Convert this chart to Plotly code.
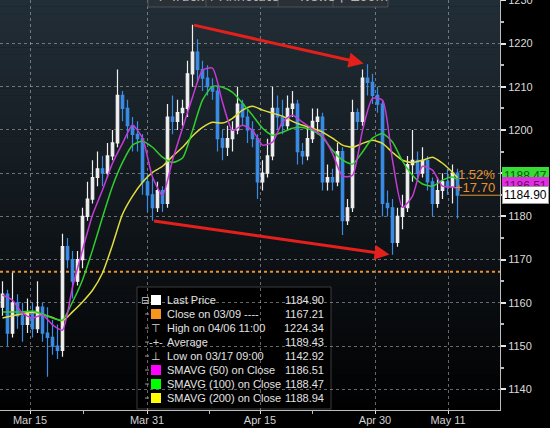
import plotly.graph_objects as go

# ---------------- data ----------------
# price bars (one bar per sample)
high = [1165, 1163, 1167, 1162, 1160, 1161, 1160, 1165, 1160, 1159,
        1156, 1155, 1176, 1175, 1172, 1172, 1182, 1188, 1193, 1195,
        1194, 1197, 1200, 1214, 1209, 1207, 1203, 1202, 1199, 1190,
        1189, 1188, 1187, 1206, 1208, 1207, 1207, 1216, 1224.34, 1221,
        1216, 1215, 1212, 1210, 1200, 1201, 1202, 1210, 1207, 1205,
        1202, 1199, 1193, 1198, 1210, 1208, 1207, 1208, 1209, 1207,
        1197, 1201, 1205, 1205, 1204, 1192, 1191, 1197, 1196, 1184,
        1207, 1205, 1214, 1215.2, 1213, 1210, 1207, 1186, 1184, 1182,
        1185, 1194, 1200, 1195, 1196, 1194, 1189, 1189, 1190, 1191,
        1192, 1191]
low = [1157, 1150, 1152, 1154, 1151, 1153, 1152, 1153, 1151, 1142.92,
       1148, 1147, 1147.5, 1168, 1161, 1164, 1168, 1179, 1183, 1187,
       1187, 1189, 1193, 1196, 1202, 1198, 1195, 1195, 1185, 1181,
       1179, 1181, 1181, 1182, 1199, 1200, 1201, 1203, 1210, 1211,
       1209, 1208, 1207, 1195, 1193, 1194, 1195, 1199, 1201, 1197,
       1196, 1184, 1186, 1189, 1193, 1200, 1199, 1200, 1203, 1192,
       1192, 1193, 1197, 1199, 1186, 1186, 1186, 1187, 1175.7, 1178,
       1181, 1200, 1201, 1208, 1206, 1204, 1180, 1180, 1171.1, 1173,
       1177, 1181, 1188, 1188, 1189, 1186, 1180, 1182, 1184, 1185,
       1183, 1179.5]
close = [1162, 1153, 1160, 1157, 1155, 1158, 1154, 1159, 1153, 1152,
         1150, 1149, 1173, 1170, 1165, 1170, 1180, 1184, 1189, 1191,
         1190, 1194, 1197, 1208, 1205, 1201, 1199, 1198, 1188, 1185,
         1182, 1186, 1183, 1203, 1202, 1204, 1205, 1213, 1218, 1214,
         1212, 1210, 1209, 1198, 1196, 1198, 1200, 1206, 1203, 1200,
         1198, 1188, 1190, 1194, 1205, 1203, 1201, 1205, 1206, 1195,
         1194, 1198, 1202, 1203, 1188, 1189, 1188, 1195, 1179, 1182,
         1204, 1202, 1212, 1211, 1208, 1206, 1183, 1182, 1174, 1180,
         1182, 1192, 1193, 1190, 1193, 1188, 1183, 1186, 1188, 1187,
         1190, 1184.90]
first_open = 1159.0

# moving averages, read every second bar (plus the last bar)
sma_bar = [0, 2, 4, 6, 8, 10, 12, 14, 16, 18, 20, 22, 24, 26, 28, 30, 32, 34,
           36, 38, 40, 42, 44, 46, 48, 50, 52, 54, 56, 58, 60, 62, 64, 66, 68,
           70, 72, 74, 76, 78, 80, 82, 84, 86, 88, 90, 91]
sma50 = [1161.8, 1160.6, 1157.6, 1156.5, 1157.2, 1154.9, 1153.7, 1163.6, 1172.2,
         1180.3, 1186.1, 1192.3, 1196.9, 1201.1, 1198.1, 1189.1, 1184.9, 1193.0,
         1200.4, 1207.6, 1213.8, 1214.3, 1206.4, 1199.9, 1201.1, 1199.9, 1196.5,
         1197.2, 1201.8, 1203.4, 1201.8, 1200.2, 1198.6, 1194.6, 1189.3, 1189.5,
         1199.9, 1207.3, 1206.9, 1193.0, 1182.1, 1184.7, 1191.6, 1190.7, 1187.0,
         1186.8, 1186.51]
sma100 = [1157.9, 1157.9, 1157.9, 1158.1, 1157.4, 1156.5, 1156.0, 1160.2, 1165.3,
          1172.2, 1179.8, 1187.0, 1192.5, 1196.5, 1197.4, 1196.0, 1193.7, 1192.5,
          1193.5, 1199.9, 1206.9, 1210.1, 1209.9, 1208.7, 1206.2, 1203.4, 1200.4,
          1198.8, 1199.5, 1200.4, 1200.6, 1199.9, 1198.3, 1195.3, 1193.0, 1192.1,
          1194.9, 1198.1, 1199.2, 1197.2, 1192.8, 1189.5, 1187.5, 1187.0, 1188.4,
          1189.1, 1188.47]
sma200 = [1156.5, 1157.0, 1157.5, 1157.8, 1157.3, 1156.6, 1155.8, 1157.9, 1160.2,
          1162.9, 1166.9, 1173.4, 1180.5, 1184.7, 1187.9, 1190.2, 1191.6, 1193.9,
          1196.0, 1198.6, 1200.6, 1201.8, 1201.6, 1202.7, 1204.6, 1205.5, 1204.6,
          1203.9, 1203.2, 1202.0, 1201.1, 1200.4, 1199.5, 1198.1, 1196.5, 1196.0,
          1196.9, 1197.6, 1196.9, 1194.8, 1193.0, 1192.5, 1193.0, 1193.7, 1192.3,
          1190.2, 1188.94]

ref_close = 1167.21      # Close on 03/09
x_tick_bar = [5.5, 28.9, 51.5, 74.5, 89.1]
x_tick_text = ["Mar 15", "Mar 31", "Apr 15", "Apr 30", "May 11"]
x_minor_bar = [16.1, 41.3, 61.9]

legend_labels = ["Last Price", "Close on 03/09 ----", "High on 04/06 11:00", "Average",
                 "Low on 03/17 09:00", "SMAVG (50) on Close", "SMAVG (100) on Close",
                 "SMAVG (200) on Close"]
legend_values = ["1184.90", "1167.21", "1224.34", "1189.43", "1142.92", "1186.51",
                 "1188.47", "1188.94"]
change_labels = ["1.52%", "+17.70"]
toolbar_labels = ["✛ Track", "⅟ Annotate", "≡ News", "⚲ Zoom"]

# ---------------- styling / layout helpers ----------------
W, H = 550, 428
ML, MR, MT, MB = 0, 50, 0, 18
PW, PH = W - ML - MR, H - MT - MB
FONT = "Liberation Sans, Arial, sans-serif"

def px_x(p):
    return p / PW

def px_y(p):
    return 1 - p / PH

bars = list(range(len(close)))
opens = [first_open] + close[:-1]

C_MAG, C_GRN, C_YEL = "#c63ad8", "#2fcf2f", "#dede3e"
C_ORANGE = "#e8912e"
C_RED = "#e3201b"

fig = go.Figure()
fig.add_trace(go.Candlestick(
    x=bars, open=opens, high=high, low=low, close=close,
    increasing=dict(line=dict(color="#f0f0f0", width=1.2), fillcolor="#f0f0f0"),
    decreasing=dict(line=dict(color="#3a8de6", width=1.2), fillcolor="#3a8de6"),
    whiskerwidth=0, showlegend=False, hoverinfo="skip"))
for vals, col in [(sma200, C_YEL), (sma100, C_GRN), (sma50, C_MAG)]:
    fig.add_trace(go.Scatter(x=sma_bar, y=vals, mode="lines",
                             line=dict(color=col, width=1.5, shape="spline", smoothing=0.6),
                             showlegend=False, hoverinfo="skip"))

shapes = []
# vertical gradient background of the plot area
N = 60
top, bot = (34, 46, 55), (1, 1, 2)
for k in range(N):
    t = (k + 0.5) / N
    c = tuple(round(top[j] + (bot[j] - top[j]) * t) for j in range(3))
    shapes.append(dict(type="rect", xref="paper", yref="paper", x0=0, x1=1,
                       y0=1 - (k + 1) / N, y1=1 - k / N + 0.001, layer="below",
                       line=dict(width=0), fillcolor="rgb(%d,%d,%d)" % c))
# legend box (under the grid)
shapes.append(dict(type="rect", xref="paper", yref="paper", x0=px_x(137), x1=px_x(331),
                   y0=px_y(409), y1=px_y(287), layer="below",
                   line=dict(color="#3c3c3c", width=1), fillcolor="#000000"))
# close on 03/09 dotted level
shapes.append(dict(type="line", xref="paper", yref="y", x0=0, x1=1, y0=ref_close, y1=ref_close,
                   layer="below", line=dict(color=C_ORANGE, width=2, dash="dot")))
# last price level stub
shapes.append(dict(type="line", xref="x", yref="y", x0=len(close) - 0.5, x1=99.5,
                   y0=close[-1], y1=close[-1], line=dict(color=C_ORANGE, width=1)))
# toolbar at the top
shapes.append(dict(type="rect", xref="paper", yref="paper", x0=px_x(148), x1=px_x(388),
                   y0=px_y(7), y1=px_y(-25), line=dict(color="#4b5157", width=1),
                   fillcolor="#2a3036"))
for sx in [206, 278, 333]:
    shapes.append(dict(type="line", xref="paper", yref="paper", x0=px_x(sx), x1=px_x(sx),
                       y0=px_y(7), y1=px_y(-25), line=dict(color="#4b5157", width=1)))

annotations = []
# red arrows: from the April high to the late-April high, and from the late-March low to the April low
annotations.append(dict(x=73, y=high[73], ax=38, ay=high[38], xref="x", yref="y",
                        axref="x", ayref="y", text="", showarrow=True, arrowhead=2,
                        arrowsize=1, arrowwidth=3, arrowcolor=C_RED, standoff=4))
annotations.append(dict(x=78, y=low[78], ax=30, ay=low[30], xref="x", yref="y",
                        axref="x", ayref="y", text="", showarrow=True, arrowhead=2,
                        arrowsize=1, arrowwidth=3, arrowcolor=C_RED, standoff=3))

# legend
sq_colors = ["#ffffff", "#f7941d", None, None, None, "#ff00ff", "#00ff00", "#ffff00"]
icons = [None, None, "⊤", "-+-", "⊥", None, None, None]
for k, (lab, val) in enumerate(zip(legend_labels, legend_values)):
    yp = 300 + 14 * k
    if sq_colors[k]:
        shapes.append(dict(type="rect", xref="paper", yref="paper", x0=px_x(151), x1=px_x(161),
                           y0=px_y(yp + 5), y1=px_y(yp - 5), line=dict(width=0),
                           fillcolor=sq_colors[k]))
    if icons[k]:
        annotations.append(dict(x=px_x(156), y=px_y(yp), xref="paper", yref="paper",
                                text=icons[k], showarrow=False, xanchor="center",
                                yanchor="middle", font=dict(color="#d8d8d8", size=11, family=FONT)))
    if k == 0:
        annotations.append(dict(x=px_x(145), y=px_y(yp), xref="paper", yref="paper",
                                text="⊟", showarrow=False, xanchor="center", yanchor="middle",
                                font=dict(color="#cfcfcf", size=10, family="DejaVu Sans")))
    else:
        shapes.append(dict(type="line", xref="paper", yref="paper", x0=px_x(145), x1=px_x(149),
                           y0=px_y(yp), y1=px_y(yp), line=dict(color="#9a9a9a", width=1)))
    annotations.append(dict(x=px_x(165), y=px_y(yp), xref="paper", yref="paper", text=lab,
                            showarrow=False, xanchor="left", yanchor="middle",
                            font=dict(color="#e2e2e2", size=11, family=FONT)))
    annotations.append(dict(x=px_x(326), y=px_y(yp), xref="paper", yref="paper", text=val,
                            showarrow=False, xanchor="right", yanchor="middle",
                            font=dict(color="#e2e2e2", size=11, family=FONT)))

# change vs close on 03/09
annotations.append(dict(x=px_x(497), y=close[-1], xref="paper", yref="y", text=change_labels[0],
                        showarrow=False, xanchor="right", yanchor="middle", yshift=21,
                        font=dict(color=C_ORANGE, size=13, family=FONT)))
annotations.append(dict(x=px_x(497), y=close[-1], xref="paper", yref="y", text=change_labels[1],
                        showarrow=False, xanchor="right", yanchor="middle", yshift=8,
                        font=dict(color=C_ORANGE, size=13, family=FONT)))

# price tags on the right axis
for val, bg, fg, ys in [(sma100[-1], "#35dd35", "#0c5a0c", 4), (sma50[-1], "#e030e0", "#6a0a6a", 2),
                        (close[-1], "#ffffff", "#000000", 0)]:
    annotations.append(dict(x=1, y=val, xref="paper", yref="y", text="%.2f" % val,
                            showarrow=False, xanchor="left", yanchor="middle", xshift=2, yshift=ys,
                            bgcolor=bg, bordercolor="#9a9a9a" if bg == "#ffffff" else bg,
                            borderwidth=1, borderpad=1,
                            font=dict(color=fg, size=12, family=FONT)))

# toolbar labels (mostly above the frame)
for lab, cx in zip(toolbar_labels, [180, 243, 310, 362]):
    annotations.append(dict(x=px_x(cx), y=1, xref="paper", yref="paper", text=lab,
                            showarrow=False, xanchor="center", yanchor="middle", yshift=4,
                            font=dict(color="#b4b4b4", size=13, family="DejaVu Sans")))

grid = "rgba(185,185,185,0.55)"
fig.update_layout(
    width=W, height=H,
    margin=dict(l=ML, r=MR, t=MT, b=MB, autoexpand=False),
    paper_bgcolor="#000000", plot_bgcolor="rgba(0,0,0,0)",
    showlegend=False,
    shapes=shapes, annotations=annotations,
    xaxis=dict(range=[-0.5, 99.5], tickmode="array", tickvals=x_tick_bar, ticktext=x_tick_text,
               showgrid=True, gridcolor=grid, griddash="dot", gridwidth=1,
               ticks="outside", ticklen=3, tickcolor="#dddddd", tickwidth=1,
               ticklabelstandoff=-3,
               showline=True, linecolor="#bdbdbd", linewidth=1, zeroline=False,
               tickfont=dict(color="#d2d2d2", size=11, family=FONT),
               minor=dict(tickmode="array", tickvals=x_minor_bar, ticks="outside", ticklen=3,
                          tickcolor="#bbbbbb", showgrid=False),
               rangeslider=dict(visible=False), fixedrange=True),
    yaxis=dict(side="right", range=[1135.2, 1230.08], tick0=1140, dtick=10,
               showgrid=True, gridcolor=grid, griddash="dot", gridwidth=1,
               ticks="outside", ticklen=5, tickwidth=2, tickcolor="#e6e6e6",
               ticklabeloverflow="allow",
               showline=True, linecolor="#bdbdbd", linewidth=1, zeroline=False,
               tickfont=dict(color="#dadada", size=11, family=FONT),
               minor=dict(dtick=5, ticks="outside", ticklen=3, tickcolor="#bbbbbb", showgrid=False),
               fixedrange=True),
)

fig.write_html("out.html", config={"displayModeBar": False},
               post_script="document.body.style.margin='0px';document.body.style.background='#000';")
